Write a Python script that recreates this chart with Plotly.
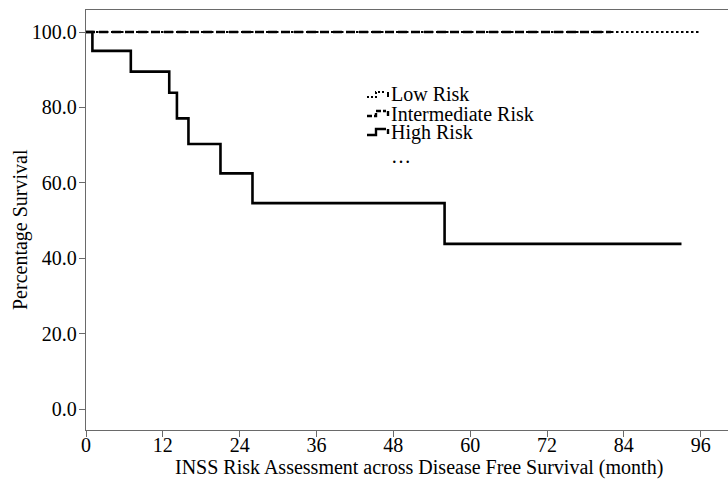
import plotly.graph_objects as go

# Kaplan-Meier step data (months, percent surviving)
low_months = [0, 96]
low_surv = [100.0, 100.0]

inter_months = [0, 82]
inter_surv = [100.0, 100.0]

high_months = [0, 1, 7, 13, 14.2, 16, 21, 26, 56, 93]
high_surv = [100.0, 95.0, 89.5, 83.9, 77.1, 70.3, 62.5, 54.6, 43.8, 43.8]

x_ticks = [0, 12, 24, 36, 48, 60, 72, 84, 96]
y_ticks = [0, 20, 40, 60, 80, 100]
y_tick_text = ["0.0", "20.0", "40.0", "60.0", "80.0", "100.0"]

series_names = ["Low Risk", "Intermediate Risk", "High Risk"]

FONT = "Liberation Serif"
W, H = 728, 484
L, R, T, B = 86, 0, 10, 54
AXIS_GREY = "#6a6a6a"

fig = go.Figure()

fig.add_trace(go.Scatter(x=low_months, y=low_surv, mode="lines", line_shape="hv",
                         line=dict(color="black", width=2.2, dash="2.5px,2.5px"),
                         name=series_names[0], showlegend=False))
fig.add_trace(go.Scatter(x=inter_months, y=inter_surv, mode="lines", line_shape="hv",
                         line=dict(color="black", width=2.6, dash="9px,4px"),
                         name=series_names[1], showlegend=False))
fig.add_trace(go.Scatter(x=high_months, y=high_surv, mode="lines", line_shape="hv",
                         line=dict(color="black", width=2.6),
                         name=series_names[2], showlegend=False))


def to_paper(xp, yp):
    pw = W - L - R
    ph = H - T - B
    return (xp - L) / pw, (H - B - yp) / ph


# Hand-drawn legend: small step glyph + label per series
legend_rows = [
    (97, 92, "2px,2px", 2.0),
    (116, 111, "5px,2px", 2.4),
    (135, 129, "solid", 2.4),
]
shapes = []
annotations = []
for (y_lo, y_hi, dash, w), name in zip(legend_rows, series_names):
    pts = [(367, y_lo), (376, y_lo), (376, y_hi), (386, y_hi)]
    pp = [to_paper(*p) for p in pts]
    path = "M " + " L ".join(f"{a:.5f},{b:.5f}" for a, b in pp)
    shapes.append(dict(type="path", xref="paper", yref="paper", path=path,
                       line=dict(color="black", width=w, dash=dash)))
    t0 = to_paper(388, y_hi)
    t1 = to_paper(388, y_hi + 5)
    shapes.append(dict(type="line", xref="paper", yref="paper",
                       x0=t0[0], y0=t0[1], x1=t1[0], y1=t1[1],
                       line=dict(color="black", width=w)))
    tx, ty = to_paper(389, (y_lo + y_hi) / 2)
    annotations.append(dict(text=name, xref="paper", yref="paper", x=tx, y=ty,
                            xanchor="left", yanchor="middle", showarrow=False,
                            font=dict(family=FONT, size=20, color="black")))

ex, ey = to_paper(389, 156)
annotations.append(dict(text="…", xref="paper", yref="paper", x=ex, y=ey,
                        xanchor="left", yanchor="middle", showarrow=False,
                        font=dict(family=FONT, size=20, color="black")))

# Axis titles
axx, axy = to_paper(419, 468)
annotations.append(dict(text="INSS Risk Assessment across Disease Free Survival (month)",
                        xref="paper", yref="paper", x=axx, y=axy,
                        xanchor="center", yanchor="middle", showarrow=False,
                        font=dict(family=FONT, size=20, color="black")))
ayx, ayy = to_paper(20, 230)
annotations.append(dict(text="Percentage Survival", xref="paper", yref="paper",
                        x=ayx, y=ayy, xanchor="center", yanchor="middle",
                        textangle=-90, showarrow=False,
                        font=dict(family=FONT, size=20, color="black")))

px_per_month = (700.7 - L) / 96
px_per_pct = (409 - 32) / 100
x_max = (W - L - R) / px_per_month
y_min = -(430 - 409) / px_per_pct
y_max = (409 - T) / px_per_pct

fig.update_layout(
    width=W, height=H,
    margin=dict(l=L, r=R, t=T, b=B),
    paper_bgcolor="white", plot_bgcolor="white",
    font=dict(family=FONT, size=20, color="black"),
    shapes=shapes, annotations=annotations,
    xaxis=dict(range=[0, x_max], tickvals=x_ticks, ticks="outside", ticklen=6,
               tickcolor=AXIS_GREY, tickwidth=1.3, showline=True, linecolor=AXIS_GREY,
               linewidth=1.3, mirror=True, showgrid=False, zeroline=False,
               ticklabelstandoff=-9,
               tickfont=dict(family=FONT, size=20, color="black")),
    yaxis=dict(range=[y_min, y_max], tickvals=y_ticks, ticktext=y_tick_text,
               ticks="outside", ticklen=6, tickcolor=AXIS_GREY, tickwidth=1.3,
               showline=True, linecolor=AXIS_GREY, linewidth=1.3, mirror=False,
               showgrid=False, zeroline=False, ticklabelstandoff=-2,
               tickfont=dict(family=FONT, size=20, color="black")),
)

fig.write_html("out.html")
